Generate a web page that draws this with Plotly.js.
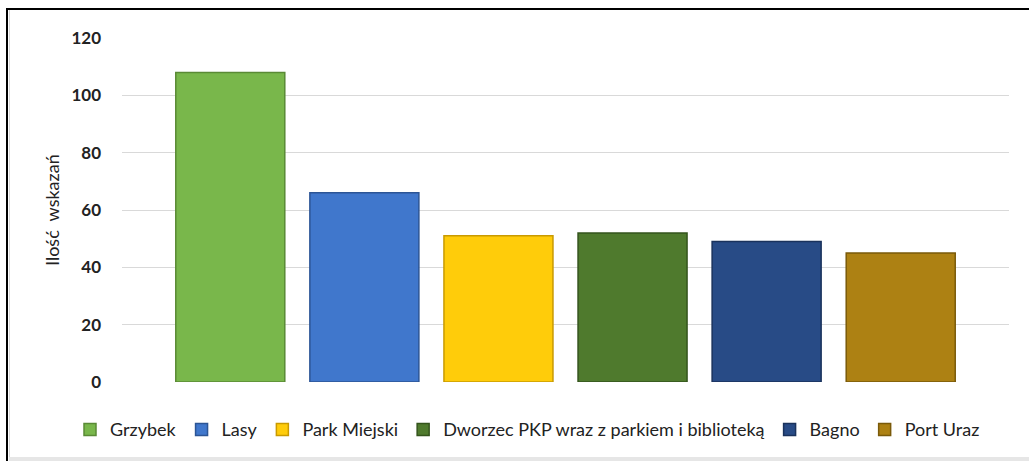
<!DOCTYPE html>
<html>
<head>
<meta charset="utf-8">
<script src="https://cdn.plot.ly/plotly-3.0.1.min.js"></script>
<style>
  html, body { margin: 0; padding: 0; background: #ffffff; }
  #wrap { position: relative; width: 1029px; height: 461px; overflow: hidden; background: #ffffff; }
  #chart { position: absolute; left: 0; top: 0; width: 1029px; height: 461px; }
  #frameTop { position: absolute; left: 6px; top: 8px; width: 1023px; height: 2px; background: #000; }
  #frameLeft { position: absolute; left: 6px; top: 8px; width: 2px; height: 453px; background: #000; }
  #innerLeft { position: absolute; left: 9px; top: 10px; width: 1px; height: 447px; background: #d9d9d9; }
  #innerBottom { position: absolute; left: 9px; top: 457px; width: 1020px; height: 4px; background: #e6e6e6; }
</style>
</head>
<body>
<div id="wrap">
  <div id="chart"></div>
  <div id="frameTop"></div>
  <div id="frameLeft"></div>
  <div id="innerLeft"></div>
  <div id="innerBottom"></div>
</div>
<script>
// Data
const categories = ["Grzybek", "Lasy", "Park Miejski", "Dworzec PKP wraz z parkiem i biblioteką", "Bagno", "Port Uraz"];
const values = [108, 66, 51, 52, 49, 45];
const yTickValues = [0, 20, 40, 60, 80, 100, 120];
const yTitle = "Ilość  wskazań";

// Styles
const fillColors = ["#79b74b", "#4077cc", "#ffcc0a", "#4f7a2d", "#284b86", "#ad8113"];
const lineColors = ["#5a8a35", "#2c5595", "#c99a00", "#34541c", "#1a325c", "#7a5a0a"];

const traces = categories.map((c, i) => ({
  type: "bar",
  name: c,
  x: [""],
  y: [values[i]],
  marker: { color: fillColors[i], line: { color: lineColors[i], width: 1.5 } },
  hoverinfo: "name+y"
}));

const layout = {
  width: 1029,
  height: 461,
  margin: { l: 122, r: 20, t: 38, b: 79 },
  paper_bgcolor: "rgba(0,0,0,0)",
  plot_bgcolor: "#ffffff",
  barmode: "group",
  bargap: 0.093,
  bargroupgap: 0.187,
  font: { family: "Lato, 'Open Sans', sans-serif", color: "#222222" },
  xaxis: {
    showticklabels: false,
    showgrid: false,
    zeroline: false,
    showline: false,
    ticks: ""
  },
  yaxis: {
    range: [0, 120],
    tickvals: yTickValues,
    ticktext: yTickValues.map(String),
    tickfont: { family: "Lato, sans-serif", size: 17, color: "#222222", weight: "bold" },
    ticklabelstandoff: 20,
    showgrid: true,
    gridcolor: "#d9d9d9",
    gridwidth: 1,
    zeroline: false,
    showline: false,
    ticks: "",
    fixedrange: true
  },
  legend: {
    orientation: "h",
    x: (70 - 122) / 887,
    xanchor: "left",
    y: -0.085,
    yanchor: "top",
    font: { family: "Lato, sans-serif", size: 18, color: "#222222" },
    itemwidth: 30,
    traceorder: "normal"
  },
  annotations: [{
    text: yTitle,
    xref: "paper",
    yref: "paper",
    x: (52 - 122) / 887,
    y: 0.5,
    xanchor: "center",
    yanchor: "middle",
    textangle: -90,
    showarrow: false,
    font: { family: "Lato, sans-serif", size: 18, color: "#222222" }
  }],
  showlegend: true
};

Plotly.newPlot("chart", traces, layout, { displayModeBar: false, staticPlot: true });
</script>
</body>
</html>
